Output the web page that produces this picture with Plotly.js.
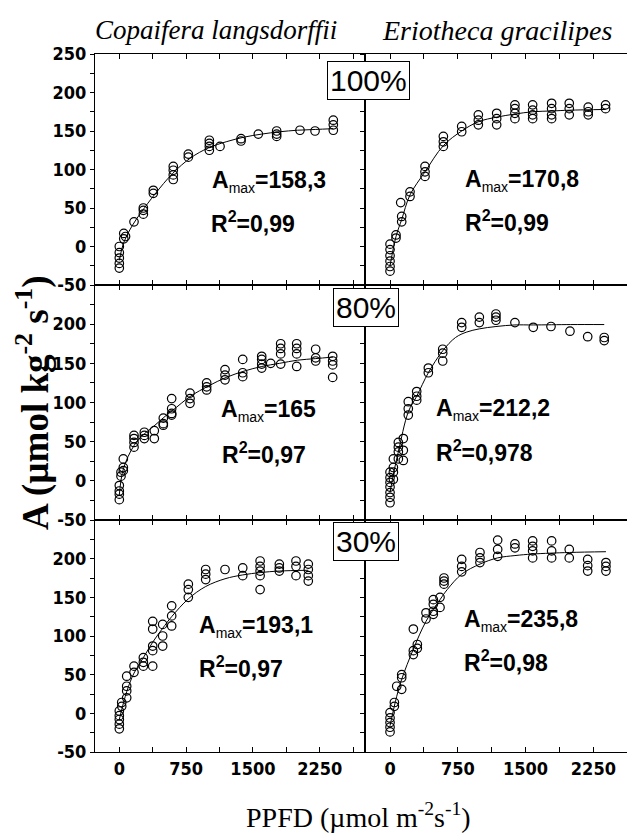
<!DOCTYPE html>
<html><head><meta charset="utf-8">
<script src="https://cdn.plot.ly/plotly-3.0.1.min.js"></script>
<style>html,body{margin:0;padding:0;background:#fff}</style>
</head><body>
<div id="chart" style="width:627px;height:839px"></div>
<script>
// ---------- DATA ----------
const species = ["Copaifera langsdorffii", "Eriotheca gracilipes"];
const lightLevels = ["100%", "80%", "30%"];
const xTickVals = [0, 375, 750, 1125, 1500, 1875, 2250, 2625];
const xTickText = ["0", "", "750", "", "1500", "", "2250", ""];
const yTickVals = [-50, -25, 0, 25, 50, 75, 100, 125, 150, 175, 200, 225, 250];
const yTickTextTop = ["-50", "", "0", "", "50", "", "100", "", "150", "", "200", "", "250"];
const yTickTextLower = ["-50", "", "0", "", "50", "", "100", "", "150", "", "200", "", ""];

// Copaifera 100%
const cop100_x = [0,0,0,0,0, 50,50, 70, 165, 270,270,270, 382,382, 606,606,606,606, 775,775, 1011,1011,1011,1011, 1131, 1367,1367, 1561, 1767,1767,1767, 2029, 2198, 2403,2403,2403];
const cop100_y = [0,-8,-15,-22,-28, 17,10, 13, 32, 42,47,50, 73,69, 104,99,93,87, 120,116, 138,134,130,125, 130, 140,137, 146, 150,146,143, 151, 150, 164,158,151];
const cop100_fit_x = [0, 50, 150, 250, 400, 600, 800, 1000, 1200, 1400, 1600, 1800, 2000, 2200, 2400];
const cop100_fit_y = [-18, 5, 28, 45, 68, 95, 115, 128, 136, 142, 146, 149, 151, 152, 153];

// Eriotheca 100%
const eri100_x = [0,0,0,0,0,0, 66,66, 118, 129,129, 221,221, 387,387,387, 590,590,590, 793,793, 977,977,977, 1180,1180,1180, 1382,1382,1382,1382, 1578,1578,1578,1578, 1788,1788,1788,1788, 1983,1983,1983, 2193,2193,2193, 2385,2385];
const eri100_y = [3,-4,-12,-19,-26,-32, 15,11, 57, 39,32, 71,65, 104,97,91, 143,136,130, 156,149, 171,164,158, 173,166,158, 184,179,173,166, 184,177,171,166, 186,179,171,166, 186,179,171, 181,175,171, 184,179];
const eri100_fit_x = [0, 66, 129, 221, 387, 590, 793, 977, 1180, 1382, 1578, 1788, 1983, 2385];
const eri100_fit_y = [-25, 13, 35, 67, 97, 131, 150, 162, 168, 172, 175, 176, 177, 178];

// Copaifera 80%
const cop80_x = [0,0,0,0, 19,19, 45,45,45, 165,165,165,165, 281,281,281, 393,393, 494,494,494, 588,588,588,588, 794,794,794, 981,981,981, 1187,1187,1187, 1386,1386,1386, 1599,1599,1599,1599, 1700, 1812,1812,1812,1812, 1992,1992,1992,1992, 2205,2205,2205, 2396,2396,2396,2396];
const cop80_y = [-6,-13,-17,-24, 11,6, 28,17,13, 58,54,49,43, 62,58,54, 64,54, 80,73,71, 105,92,86,84, 112,105,99, 125,120,116, 142,135,129, 155,138,133, 159,155,149,144, 150, 175,169,162,149, 175,169,162,146, 168,157,153, 159,153,148,132];
const cop80_fit_x = [0, 45, 165, 281, 400, 500, 600, 800, 1000, 1200, 1400, 1600, 1800, 2000, 2200, 2400];
const cop80_fit_y = [-18, 15, 45, 60, 71, 81, 90, 108, 121, 132, 140, 146, 150, 154, 156, 158];

// Eriotheca 80%
const eri80_x = [0,0,0,0,0,0,0, 37,37,37,37, 92,92,92,92, 147,147,147, 202,202,202, 295,295,295, 424,424, 583,583,583, 793,793, 988,988, 1172,1172,1172, 1382, 1585, 1781, 1991, 2187, 2370,2370];
const eri80_y = [11,4,-2,-8,-15,-21,-28, 28,17,11,2, 49,43,37,28, 54,39,26, 101,92,84, 114,108,103, 144,138, 168,163,153, 202,196, 209,202, 213,209,205, 202, 196, 197, 191, 184, 183,179];
const eri80_fit_x = [0, 40, 92, 202, 295, 424, 583, 725, 850, 988, 1172, 1382, 1585, 2000, 2370];
const eri80_fit_y = [-15, 10, 37, 88, 108, 138, 166, 183, 190, 194, 197, 199, 199, 199.5, 199.5];

// Copaifera 30%
const cop30_x = [0,0,0,0,0, 27,27, 83,83,83,83, 165,165, 270,270,270, 375,375,375,375,375, 487,487,487, 588,588,588, 775,775,775, 970,970,970, 1187, 1386,1386, 1581,1581,1581,1581,1581, 1797,1797,1797, 1984,1984,1984, 2122,2122,2122,2122];
const cop30_y = [3,-3,-8,-14,-20, 14,9, 48,35,29,20, 61,53, 72,66,61, 119,109,87,81,61, 115,100,87, 139,126,113, 167,160,150, 186,180,173, 186, 188,178, 197,190,184,178,160, 193,188,184, 197,190,178, 193,186,178,171];
const cop30_fit_x = [0, 83, 165, 270, 375, 487, 588, 775, 970, 1187, 1386, 1581, 1797, 2122];
const cop30_fit_y = [-8, 28, 52, 72, 92, 110, 125, 148, 164, 174, 179, 182, 184, 185];

// Eriotheca 30%
const eri30_x = [0,0,0,0,0, 48,48, 74, 129,129,129, 258,258,258, 302,302, 398,398, 479,479,479,479, 553,553, 597,597,597, 793,793,793, 995,995,995, 1191,1191,1191, 1382,1382, 1578,1578,1578,1578, 1788,1788,1788, 1983,1983, 2187,2187,2187, 2389,2389,2389];
const eri30_y = [1,-6,-12,-18,-24, 14,9, 35, 50,46,31, 81,76,109, 89,84, 130,122, 147,141,132,128, 150,137, 175,171,167, 199,190,183, 208,201,195, 224,212,203, 219,214, 223,216,210,201, 223,210,201, 212,201, 199,191,184, 195,190,184];
const eri30_fit_x = [0, 74, 129, 258, 398, 553, 633, 793, 995, 1191, 1382, 1578, 1983, 2389];
const eri30_fit_y = [-16, 22, 44, 83, 119, 147, 160, 180, 193, 201, 204, 206, 208, 209];

const amaxText = ["158,3", "170,8", "165", "212,2", "193,1", "235,8"];
const r2Text = ["0,99", "0,99", "0,97", "0,978", "0,97", "0,98"];

// ---------- LAYOUT ----------
const L = 95, T = 54, PW = 532, PH = 698;
const px = x => (x - L) / PW;
const py = y => (T + PH - y) / PH;
const split = px(365);
const rowBounds = [[py(285), 1], [py(520), py(285)], [0, py(520)]];

const tickFont = {family: "'Liberation Sans Narrow', 'Arial Narrow', 'DejaVu Sans Condensed', sans-serif", size: 18, color: "#000", weight: 700};

const panels = [
  {x: cop100_x, y: cop100_y, fx: cop100_fit_x, fy: cop100_fit_y},
  {x: eri100_x, y: eri100_y, fx: eri100_fit_x, fy: eri100_fit_y},
  {x: cop80_x, y: cop80_y, fx: cop80_fit_x, fy: cop80_fit_y},
  {x: eri80_x, y: eri80_y, fx: eri80_fit_x, fy: eri80_fit_y},
  {x: cop30_x, y: cop30_y, fx: cop30_fit_x, fy: cop30_fit_y},
  {x: eri30_x, y: eri30_y, fx: eri30_fit_x, fy: eri30_fit_y}
];

const traces = [];
const layout = {
  width: 627, height: 839,
  margin: {l: L, r: 0, t: T, b: 839 - T - PH},
  paper_bgcolor: "#fff", plot_bgcolor: "#fff",
  showlegend: false,
  annotations: [],
  font: {family: "'Liberation Sans', Arial, sans-serif", color: "#000"}
};

panels.forEach((p, i) => {
  const n = i + 1;
  const xa = "x" + (n === 1 ? "" : n), ya = "y" + (n === 1 ? "" : n);
  const col = i % 2, row = Math.floor(i / 2);
  traces.push({x: p.fx, y: p.fy, xaxis: xa, yaxis: ya, mode: "lines", type: "scatter",
    line: {color: "#000", width: 1, shape: "spline"}, hoverinfo: "skip"});
  traces.push({x: p.x, y: p.y, xaxis: xa, yaxis: ya, mode: "markers", type: "scatter",
    marker: {symbol: "circle-open", size: 8.5, color: "#000", line: {width: 1.2, color: "#000"}}});
  const xkey = "xaxis" + (n === 1 ? "" : n), ykey = "yaxis" + (n === 1 ? "" : n);
  layout[xkey] = {
    domain: col === 0 ? [0, split] : [split, 1],
    range: col === 0 ? [-273, 2759] : [-277, 2622],
    anchor: ya, tickmode: "array", tickvals: xTickVals, ticktext: xTickText,
    showticklabels: row === 2, ticks: "inside", ticklen: 5, tickwidth: 1, tickcolor: "#000",
    showline: true, linecolor: "#000", linewidth: 1, mirror: "ticks",
    showgrid: false, zeroline: false, tickfont: tickFont
  };
  layout[ykey] = {
    domain: rowBounds[row], range: [-50, 250], anchor: xa,
    tickmode: "array", tickvals: yTickVals,
    ticktext: row === 0 ? yTickTextTop : yTickTextLower,
    showticklabels: col === 0, ticks: "outside", ticklen: 4, tickwidth: 1, tickcolor: "#000",
    showline: true, linecolor: "#000", linewidth: 1, mirror: col === 0,
    showgrid: false, zeroline: false, tickfont: tickFont
  };
});

const amaxPos = [[210, 182], [463, 181], [219, 410], [434, 409], [197, 626], [462, 620]];
const r2Pos = [[209, 222], [463, 221], [220, 453], [434, 451], [197, 667], [462, 661]];
const annFont = {family: "'Liberation Sans', Arial, sans-serif", size: 23, color: "#000"};
amaxText.forEach((t, i) => {
  layout.annotations.push({xref: "paper", yref: "paper", x: px(amaxPos[i][0]), y: py(amaxPos[i][1]),
    xanchor: "left", yanchor: "middle", showarrow: false, font: annFont,
    text: "<b>A</b><sub><span style='font-size:14px'>max</span></sub><b>=" + t + "</b>"});
  layout.annotations.push({xref: "paper", yref: "paper", x: px(r2Pos[i][0]), y: py(r2Pos[i][1]),
    xanchor: "left", yanchor: "middle", showarrow: false, font: annFont,
    text: "<b>R<sup>2</sup>=" + r2Text[i] + "</b>"});
});

const boxPos = [[368, 80], [365.5, 307], [366, 541]];
lightLevels.forEach((t, i) => {
  layout.annotations.push({xref: "paper", yref: "paper", x: px(boxPos[i][0]), y: py(boxPos[i][1]),
    xanchor: "center", yanchor: "middle", showarrow: false, text: t,
    font: {family: "'Liberation Sans Narrow', 'Arial Narrow', 'Liberation Sans', sans-serif", size: 30, color: "#000"},
    bgcolor: "#fff", bordercolor: "#000", borderwidth: 1, borderpad: 2});
});

const serif = "'Liberation Serif', 'Times New Roman', serif";
layout.annotations.push({xref: "paper", yref: "paper", x: px(216), y: py(30), xanchor: "center", yanchor: "middle",
  showarrow: false, text: "<i>" + species[0] + "</i>", font: {family: serif, size: 27, color: "#000"}});
layout.annotations.push({xref: "paper", yref: "paper", x: px(497), y: py(30), xanchor: "center", yanchor: "middle",
  showarrow: false, text: "<i>" + species[1] + "</i>", font: {family: serif, size: 28, color: "#000"}});
layout.annotations.push({xref: "paper", yref: "paper", x: px(33), y: py(403), xanchor: "center", yanchor: "middle",
  showarrow: false, textangle: -90, text: "<b>A (µmol kg<sup>-2</sup> s<sup>-1</sup>)</b>", font: {family: serif, size: 37, color: "#000"}});
layout.annotations.push({xref: "paper", yref: "paper", x: px(358), y: py(815), xanchor: "center", yanchor: "middle",
  showarrow: false, text: "PPFD (µmol m<sup>-2</sup>s<sup>-1</sup>)", font: {family: serif, size: 28, color: "#000"}});

Plotly.newPlot("chart", traces, layout, {staticPlot: true});
</script>
</body></html>
